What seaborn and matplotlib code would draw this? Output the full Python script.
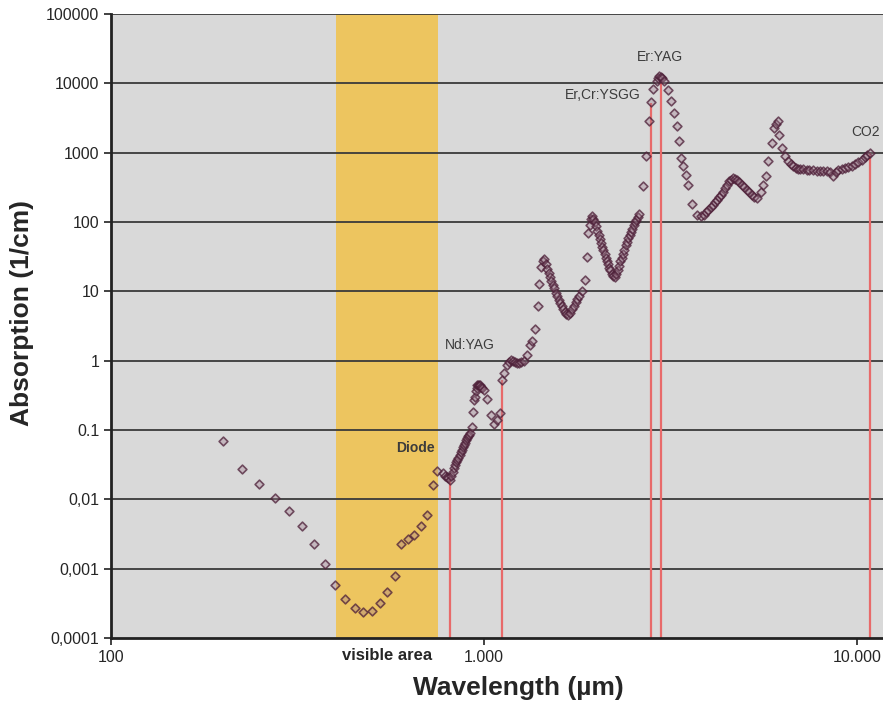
import numpy as np
import pandas as pd
import matplotlib
matplotlib.use("Agg")
import matplotlib.pyplot as plt
import seaborn as sns

# wavelength (nm) and absorption (1/cm)
wavelength = [200, 225, 250, 276, 301, 326, 351, 375, 399, 425, 450, 475, 501, 527, 551, 577,
              600, 624, 650, 676, 703, 729, 750,
              778, 786, 794, 802, 812, 818, 824, 830, 836, 842, 848, 854, 860, 866, 872, 878,
              884, 890, 896, 902, 908, 914, 920,
              929, 932, 942, 945, 950, 955, 960, 965, 970, 975, 980, 990, 1000, 1021, 1042,
              1064, 1082, 1104,
              1117, 1132, 1155, 1170, 1181, 1195, 1210, 1225, 1244, 1260, 1280, 1306, 1328,
              1345, 1371, 1392, 1407, 1422, 1437,
              1452, 1465, 1478, 1490, 1503, 1516, 1530, 1543, 1557, 1571, 1585, 1600, 1615,
              1630, 1645, 1660, 1680, 1700, 1720, 1740, 1760, 1780, 1800, 1830, 1866,
              1888, 1904, 1923, 1940,
              1950, 1965, 1985, 2000, 2015, 2030, 2045, 2060, 2075, 2090, 2105, 2120, 2135,
              2150, 2165, 2180, 2200, 2220, 2240, 2260, 2280, 2300, 2320, 2340, 2360, 2380,
              2400, 2420, 2440, 2460, 2480, 2500, 2520, 2540, 2560, 2580, 2600, 2661,
              2714, 2768, 2805, 2844, 2904, 2930, 2951, 2975, 2995, 3045, 3108, 3170, 3228,
              3286, 3327, 3373, 3421, 3472, 3530, 3616, 3732, 3811, 3890, 3940, 3993, 4050,
              4103, 4150, 4205, 4260, 4311, 4370, 4427, 4490, 4547, 4600, 4659, 4715, 4775,
              4840, 4906, 4980, 5060, 5140, 5220, 5300, 5383, 5517, 5610, 5702,
              5782, 5902, 5998, 6060, 6125, 6192, 6281, 6411, 6545, 6650, 6747, 6850, 6950,
              7031, 7150, 7328, 7450, 7637, 7800, 7960, 8100, 8295, 8450, 8642, 8780, 8913,
              9100, 9290, 9480, 9680, 9880, 10090, 10300, 10500, 10660, 10830]
absorption = [0.070, 0.027, 0.0169, 0.0106, 0.0068, 0.0041, 0.0023, 0.00116, 0.00058, 0.00037,
              0.00027, 0.00024, 0.000245, 0.00032, 0.00046, 0.00079,
              0.00225, 0.0027, 0.0031, 0.0041, 0.006, 0.016, 0.026,
              0.024, 0.022, 0.021, 0.020, 0.019, 0.022, 0.025, 0.028, 0.031, 0.034, 0.037,
              0.040, 0.044, 0.048, 0.052, 0.056, 0.061, 0.066, 0.071, 0.076, 0.081, 0.086,
              0.092,
              0.112, 0.184, 0.27, 0.30, 0.36, 0.41, 0.44, 0.45, 0.45, 0.44, 0.42, 0.40, 0.38,
              0.28, 0.165, 0.122, 0.14, 0.175,
              0.53, 0.67, 0.87, 0.97, 1.03, 1.0, 0.97, 0.93, 0.92, 0.95, 1.0, 1.21, 1.69,
              1.89, 2.85, 6.2, 12.7, 22.8, 27,
              29, 25, 21, 18.5, 16, 14, 12.5, 11, 9.5, 8.5, 7.6, 6.8, 6.2,
              5.5, 5.0, 4.7, 4.6, 4.85, 5.5, 6.2, 7.0, 7.7, 8.6, 10, 14.7,
              30.8, 69, 91, 110,
              120, 110, 100, 88, 75, 64, 56, 50, 44, 39, 34, 30, 27,
              25, 22, 20, 18, 16.5, 16.2, 18, 20.5, 23, 27, 30, 35, 40,
              46, 52, 58, 65, 72, 80, 90, 100, 108, 118, 130, 325,
              902, 2820, 5300, 8300, 10650, 12000, 12900, 12400, 11900, 10650, 7900, 5480,
              3720, 2440, 1450, 836, 632, 480, 344, 183, 127, 120, 127, 138, 150, 163,
              177, 192, 209, 228, 247, 275, 308, 345, 384, 410, 430, 420, 406,
              375, 344, 318, 292, 268, 247, 232, 221, 275, 344, 464,
              746, 1376, 2265, 2600, 2820, 1813, 1165, 881, 746, 680, 632, 600, 585,
              580, 572, 567, 560, 554, 550, 548, 545, 542, 520, 464, 520, 554,
              578, 600, 622, 647, 683, 722, 790, 863, 920, 986]

# laser lines: name, wavelength, absorption at line top, label position
laser_names = ["Diode", "Nd:YAG", "Er,Cr:YSGG", "Er:YAG", "CO2"]
laser_wl = [812, 1115, 2800, 2980, 10830]
laser_top = [0.019, 0.52, 5200, 11200, 1000]
label_x = [653, 917, 2084, 2965, 10570]
label_y = [0.055, 1.69, 6840, 24200, 2000]

visible = (400, 753)

df = pd.DataFrame({"wavelength": wavelength, "absorption": absorption})

sns.set_style("ticks")
plt.rcParams["font.family"] = ["Liberation Sans", "DejaVu Sans"]

fig = plt.figure(figsize=(8.83, 7.06), dpi=100)
ax = fig.add_axes([0.1257, 0.0963, 0.8743, 0.8839])
ax.set_facecolor("#d9d9d9")

ax.axvspan(visible[0], visible[1], color="#edc55f", zorder=0.5, lw=0)
for yv in [1e-3, 1e-2, 1e-1, 1, 10, 100, 1000, 1e4, 1e5]:
    ax.axhline(yv, color="#3a3a3a", lw=1.3, zorder=1)

ax.vlines(laser_wl, 1e-4, laser_top, color="#e86a6a", lw=1.6, zorder=2)

sns.scatterplot(data=df, x="wavelength", y="absorption", ax=ax, marker="D", s=20,
                facecolor=(0.62, 0.48, 0.55, 0.35), edgecolor=(0.30, 0.12, 0.22, 0.75),
                linewidth=1.2, zorder=3)

ax.set_xscale("log")
ax.set_yscale("log")
ax.set_xlim(100, 11741)
ax.set_ylim(1e-4, 1e5)

ax.set_yticks([1e-4, 1e-3, 1e-2, 1e-1, 1, 10, 100, 1000, 1e4, 1e5])
ax.set_yticklabels(["0,0001", "0,001", "0,01", "0.1", "1", "10", "100", "1000", "10000", "100000"])
ax.set_xticks([100, 1000, 10000])
ax.set_xticklabels(["100", "1.000", "10.000"])
ax.minorticks_off()
ax.tick_params(axis="both", labelsize=11.5, length=5, width=1.3, color="#333333")
ax.set_xlabel("")
ax.set_ylabel("")

for s in ["top", "right"]:
    ax.spines[s].set_visible(False)
for s in ["left", "bottom"]:
    ax.spines[s].set_linewidth(2)
    ax.spines[s].set_color("#222222")

for name, lx, ly in zip(laser_names, label_x, label_y):
    ax.text(lx, ly, name, ha="center", va="center", fontsize=10, color="#3c3c3c",
            fontweight="bold" if name == "Diode" else "normal")

fig.text(387 / 883, 1 - 655 / 706, "visible area", ha="center", va="center",
         fontsize=12, fontweight="bold")

fig.text(518 / 883, 1 - 688 / 706, "Wavelength (µm)", ha="center", va="center",
         fontsize=19, fontweight="bold")
fig.text(22 / 883, 1 - 313 / 706, "Absorption (1/cm)", ha="center", va="center",
         rotation=90, fontsize=19, fontweight="bold")

fig.savefig("out.png", dpi=100)
